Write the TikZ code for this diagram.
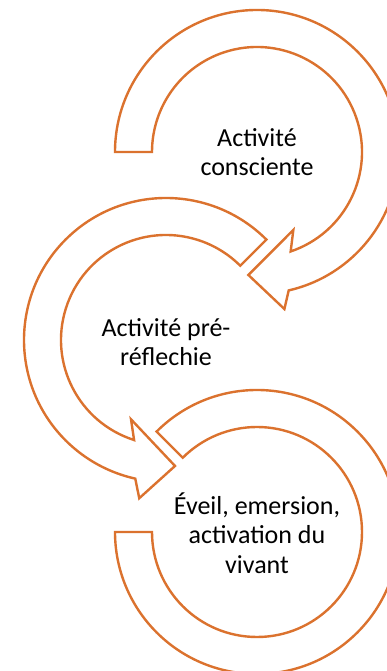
\documentclass[tikz,border=0pt]{standalone}
\usepackage{fontspec}
\setmainfont{Carlito}
\definecolor{arrowline}{RGB}{219,114,46}

\begin{document}
\begin{tikzpicture}[x=1pt, y=1pt,
  band/.style={draw=arrowline, line width=2.4pt, fill=white, line join=miter},
  phase/.style={align=center, font=\fontsize{26}{29.5}\selectfont}]
  \clip (0,0) rectangle (387,671);
  \draw[band, shift={(257,519)}] (180:142) arc[start angle=180, end angle=-77.1, radius=142]
    -- (-80.1:159.4) -- (-94:123.3) -- (-65:86) -- (-71.3:105)
    arc[start angle=-71.3, end angle=180, radius=105] -- cycle;
  \draw[band, shift={(166,331)}] (45:142) arc[start angle=45, end angle=257.5, radius=142]
    -- (260.4:160.5) -- (274.1:126.3) -- (246.2:86.7) -- (252.3:105)
    arc[start angle=252.3, end angle=45, radius=105] -- cycle;
  \draw[band, shift={(257,139)}] (135:142) arc[start angle=135, end angle=-180, radius=142]
    -- (180:105) arc[start angle=-180, end angle=135, radius=105] -- cycle;
  \node[phase] (conscient) at (257,519) {Activité\\consciente};
  \node[phase] (prereflechi) at (166,329) {Activité pré-\\réflechie};
  \node[phase] (eveil) at (257,138) {Éveil, emersion,\\activation du\\vivant};
\end{tikzpicture}
\end{document}
